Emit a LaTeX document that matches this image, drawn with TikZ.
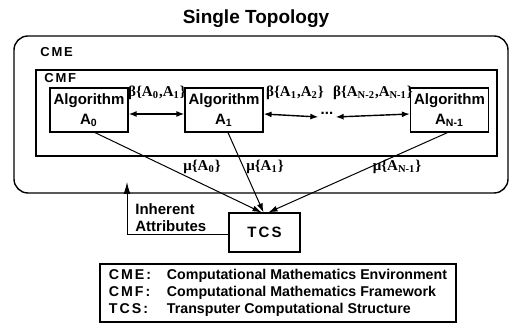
\documentclass[tikz,border=0pt]{standalone}
\usepackage{fontspec}
\setmainfont{Liberation Sans}
\newfontfamily\symfont{Liberation Serif}
\usetikzlibrary{arrows.meta}

\begin{document}
\begin{tikzpicture}[x=0.5pt, y=-0.5pt,
  font=\bfseries\fontsize{7.5}{10}\selectfont,
  algo/.style  = {draw, line width=0.6pt, minimum width=39pt, minimum height=22pt,
                  align=center, inner sep=1pt},
  frame/.style = {draw, line width=0.7pt},
  tag/.style   = {anchor=west, inner sep=0pt,
                  font=\bfseries\fontsize{6.5}{8}\selectfont\addfontfeature{LetterSpace=14}},
  coef/.style  = {font=\symfont\bfseries\fontsize{7.5}{9}\selectfont, inner sep=1pt},
  link/.style  = {{Latex[length=4pt,width=3pt]}-{Latex[length=4pt,width=3pt]}, line width=0.7pt},
  flow/.style  = {-{Latex[length=4.5pt,width=3pt]}, line width=0.5pt},
]
\useasboundingbox (0,0) rectangle (510,325);

\node[font=\bfseries\fontsize{9.5}{11}\selectfont] (title) at (256,19) {Single Topology};

% environment and framework
\node[frame, rounded corners=7pt, minimum width=247pt, minimum height=78.5pt] (cme) at (261,114.5) {};
\node[tag] (cmelbl) at (40,52) {CME};
\node[frame, minimum width=230.5pt, minimum height=43pt] (cmf) at (266.5,113) {};
\node[tag] (cmflbl) at (44,78) {CMF};

% algorithms
\node[algo] (a0) at (89,110)    {Algorithm\\A\textsubscript{0}};
\node[algo] (a1) at (224,110)   {Algorithm\\A\textsubscript{1}};
\node[algo] (an) at (449.5,110) {Algorithm\\A\textsubscript{N-1}};
\node[inner sep=1pt] (dots) at (327,113) {...};

\node[coef] (b01) at (157,93) {β\{A\textsubscript{0},A\textsubscript{1}\}};
\node[coef] (b12) at (295,93) {β\{A\textsubscript{1},A\textsubscript{2}\}};
\node[coef] (bn)  at (373,93) {β\{A\textsubscript{N-2},A\textsubscript{N-1}\}};

\draw[link] ([yshift=-2pt]a0.east) -- ([yshift=-2pt]a1.west);
\draw[link] ([yshift=-2pt]a1.east) -- ([yshift=-2pt]dots.west);
\draw[link] ([yshift=-2pt]dots.east) -- ([yshift=-2pt]an.west);

% structure
\node[algo, minimum width=35.5pt, minimum height=19.5pt,
      font=\bfseries\fontsize{7.5}{10}\selectfont\addfontfeature{LetterSpace=14}] (tcs) at (264.5,232.5) {TCS};

\draw[flow] ([xshift=3pt]a0.south) -- ([xshift=-1.5pt]tcs.north);
\draw[flow] ([xshift=2pt]a1.south) -- ([xshift=-0.5pt]tcs.north);
\draw[flow] ([xshift=-1pt]an.south) -- ([xshift=2pt]tcs.north);

\node[coef] (m0) at (202,167) {μ\{A\textsubscript{0}\}};
\node[coef] (m1) at (265,167) {μ\{A\textsubscript{1}\}};
\node[coef] (mn) at (397,167) {μ\{A\textsubscript{N-1}\}};

\coordinate (up) at (127,182);
\draw[-{Latex[length=6pt,width=3.5pt]}, line width=0.5pt] ([yshift=-1.25pt]tcs.west) -| (up);
\node[anchor=west, align=left, inner sep=0pt] (inh) at (135,218)
  {Inherent\\[-1.5pt]Attributes};

% legend
\node[frame, line width=0.6pt, minimum width=178pt, minimum height=29pt, inner sep=0pt,
      font=\bfseries\fontsize{7.1}{8.5}\selectfont] (legend) at (278,293)
  {\begin{tabular}{@{}p{29pt}@{}l@{}}
   {\addfontfeature{LetterSpace=14}CME:} & Computational Mathematics Environment\\
   {\addfontfeature{LetterSpace=14}CMF:} & Computational Mathematics Framework\\
   {\addfontfeature{LetterSpace=14}TCS:} & Transputer Computational Structure
   \end{tabular}};

\end{tikzpicture}
\end{document}
